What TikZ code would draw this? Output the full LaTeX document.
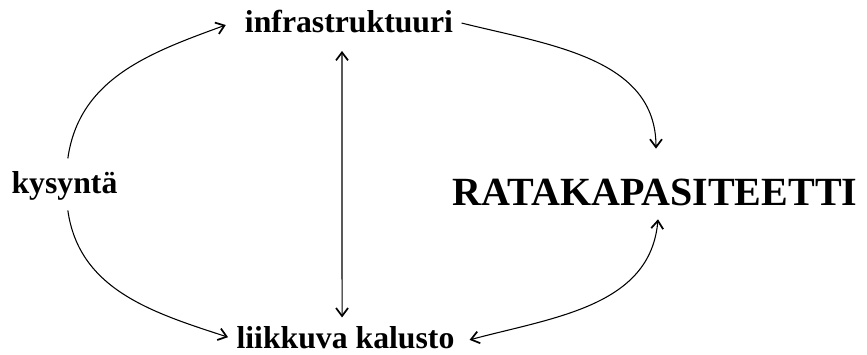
\documentclass[tikz,border=0pt]{standalone}
\usepackage{fontspec}
\setmainfont{Liberation Serif}
\usetikzlibrary{arrows.meta}

\tikzset{
	factor/.style={inner sep=0pt, font=\bfseries\fontsize{23.8}{28}\selectfont},
	target/.style={inner sep=0pt, font=\bfseries\fontsize{30}{36}\selectfont},
	barb/.tip={Straight Barb[length=6pt,width=9pt,line width=1.3pt]}
}

\begin{document}
\begin{tikzpicture}[x=0.75pt, y=-0.75pt, line width=0.8pt, arrows={-barb}]
	\useasboundingbox (0,0) rectangle (867,354);
% FACTORS
	\node [factor, anchor=base] (kysynta) at (64.5,193) {kysyntä};
	\node [factor, anchor=base] (infra) at (349,32) {infrastruktuuri};
	\node [factor, anchor=base] (kalusto) at (345.5,348) {liikkuva kalusto};
	\node [target, anchor=base] (rata) at (655,205) {RATAKAPASITEETTI};

% DEMAND
	\draw ([xshift=2.5pt, yshift=9pt]kysynta.north) to [out=82, in=200]
	([xshift=-14pt, yshift=-3pt]infra.west);
	\draw ([xshift=2.5pt, yshift=-7.5pt]kysynta.south) to [out=-82, in=162]
	([xshift=-6pt]kalusto.west);

% INTERACTION
	\draw [barb-barb]
	([xshift=-5.25pt, yshift=-13.5pt]infra.south) --
	([xshift=-2.6pt, yshift=6pt]kalusto.north);

% CAPACITY
	\draw ([xshift=6pt, yshift=-1.5pt]infra.east) to [out=-14, in=90]
	([xshift=0.75pt, yshift=22pt]rata.north);
	\draw [barb-barb]
	([xshift=11pt, yshift=-2pt]kalusto.east) to [out=15, in=-95]
	([xshift=2.25pt, yshift=-10pt]rata.south);
\end{tikzpicture}
\end{document}
